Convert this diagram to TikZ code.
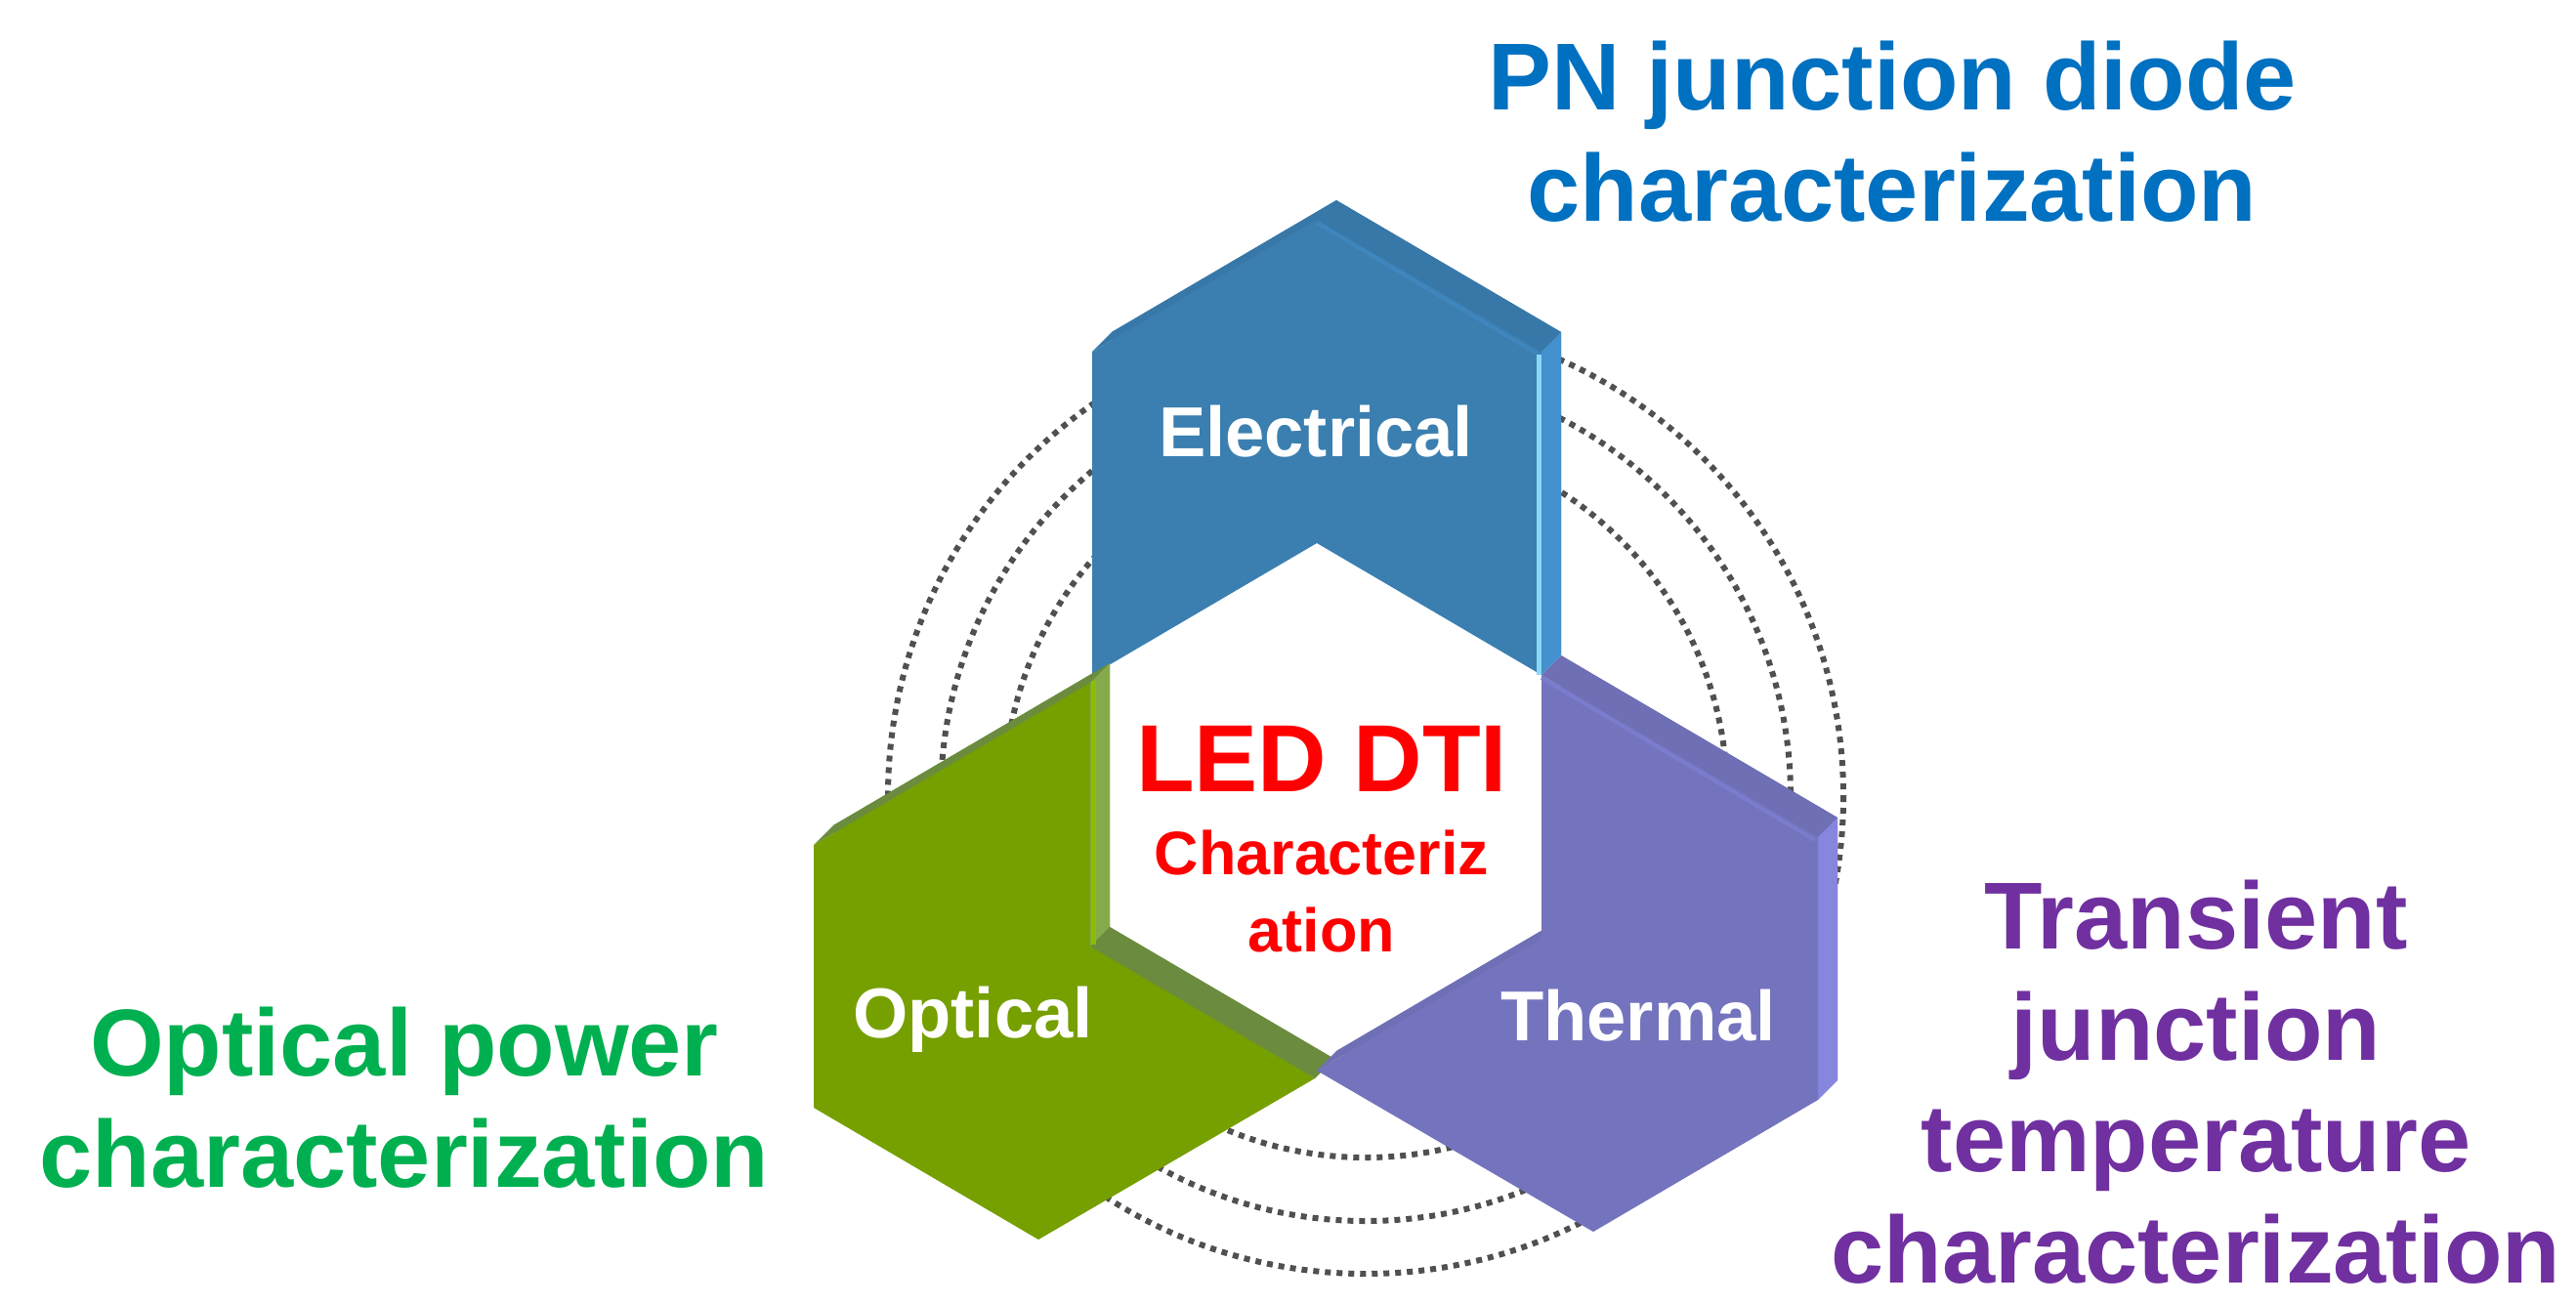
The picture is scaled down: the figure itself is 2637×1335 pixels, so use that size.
\documentclass[tikz,border=0pt]{standalone}
\usepackage{fontspec}
\setmainfont{Liberation Sans}
\usepackage{tikz}
\usetikzlibrary{calc,positioning}

\definecolor{elecface}{RGB}{59,127,176}
\definecolor{electop}{RGB}{55,120,168}
\definecolor{elecside}{RGB}{67,145,206}
\definecolor{elechl}{RGB}{140,215,245}
\definecolor{elecridge}{RGB}{63,134,190}
\definecolor{optface}{RGB}{118,159,0}
\definecolor{opttop}{RGB}{107,140,62}
\definecolor{optside}{RGB}{132,170,76}
\definecolor{opthl}{RGB}{140,190,0}
\definecolor{thface}{RGB}{116,116,190}
\definecolor{thtop}{RGB}{111,111,181}
\definecolor{thside}{RGB}{134,134,222}
\definecolor{thridge}{RGB}{124,124,206}
\definecolor{pnblue}{RGB}{0,112,192}
\definecolor{optgreen}{RGB}{0,176,80}
\definecolor{trpurple}{RGB}{112,48,160}
\definecolor{ringgray}{RGB}{80,80,80}

\newcommand\wall[3]{\fill[#1] (#2) -- (#3) -- ($(#3)+(20,-20)$) -- ($(#2)+(20,-20)$) -- cycle;}
\newcommand\backface[7]{\fill[#1] ($(#2)+(20,-20)$) -- ($(#3)+(20,-20)$) -- ($(#4)+(20,-20)$)
  -- ($(#5)+(20,-20)$) -- ($(#6)+(20,-20)$) -- ($(#7)+(20,-20)$) -- cycle;}

\begin{document}
\begin{tikzpicture}[x=0.1mm,y=-0.1mm,
  ring/.style={ringgray,line width=0.6mm,dash pattern=on 0.6mm off 0.6mm},
  lbl/.style={font=\fontsize{27.7}{32.5}\selectfont\bfseries,align=center,inner sep=0pt,anchor=north},
  tag/.style={font=\fontsize{20.6}{24}\selectfont\bfseries,text=white,inner sep=0pt,anchor=base},
  ridge/.style={line width=0.4mm}]
\useasboundingbox (0,0) rectangle (2637,1335);

\coordinate (ctr) at (1398,815);
\foreach \r in {370,435,489}
  \draw[ring] (ctr) circle[radius=\r];

\coordinate (eA) at (1348,225);
\coordinate (eB) at (1578,360);
\coordinate (eC) at (1578,691);
\coordinate (eN) at (1348,556);
\coordinate (eE) at (1118,691);
\coordinate (eF) at (1118,360);

\coordinate (oA) at (833,1134);
\coordinate (oB) at (833,865);
\coordinate (oC) at (1116,699);
\coordinate (oN) at (1116,969);
\coordinate (oE) at (1346,1104);
\coordinate (oF) at (1063,1269);

\coordinate (tA) at (1861,1126);
\coordinate (tB) at (1631,1261);
\coordinate (tC) at (1348,1096);
\coordinate (tN) at (1578,961);
\coordinate (tE) at (1578,691);
\coordinate (tF) at (1861,857);

\backface{electop}{eA}{eB}{eC}{eN}{eE}{eF}
\wall{electop}{eF}{eA}
\wall{electop}{eA}{eB}
\wall{elecside}{eB}{eC}
\fill[elecface] (eA) -- (eB) -- (eC) -- (eN) -- (eE) -- (eF) -- cycle;
\draw[elecridge,ridge] ($(eA)+(0,3)$) -- ($(eB)+(-3,3)$);
\draw[elechl,line width=0.5mm] ($(eB)+(-3,3)$) -- ($(eC)+(-3,0)$);

\backface{opttop}{oA}{oB}{oC}{oN}{oE}{oF}
\wall{opttop}{oB}{oC}
\wall{optside}{oC}{oN}
\wall{opttop}{oN}{oE}
\fill[optface] (oA) -- (oB) -- (oC) -- (oN) -- (oE) -- (oF) -- cycle;
\draw[opthl,line width=0.5mm] ($(oC)+(3,-2)$) -- ($(oN)+(3,-2)$);

\backface{thtop}{tA}{tB}{tC}{tN}{tE}{tF}
\wall{thtop}{tC}{tN}
\wall{thtop}{tE}{tF}
\wall{thside}{tF}{tA}
\fill[thface] (tA) -- (tB) -- (tC) -- (tN) -- (tE) -- (tF) -- cycle;
\draw[thridge,ridge] ($(tE)+(0,3)$) -- ($(tF)+(-3,3)$);

\node[tag] (elec) at (1347,467) {Electrical};
\node[tag] (opt) at (996,1062) {Optical};
\node[tag] (therm) at (1677,1065) {Thermal};

\node[font=\fontsize{27.8}{33}\selectfont\bfseries,text=red,inner sep=0pt,anchor=base] (led) at (1353,810) {LED DTI};
\node[font=\fontsize{17.9}{22.5}\selectfont\bfseries,text=red,inner sep=0pt,align=center,below=3.8mm of led] (chz) {Characteriz\\ation};

\node[lbl,text=pnblue] (pn) at (1937,41) {PN junction diode\\characterization};
\node[lbl,text=optgreen] (oppow) at (414,1030) {Optical power\\characterization};
\node[lbl,text=trpurple] (tjt) at (2248,900) {Transient\\junction\\temperature\\characterization};
\end{tikzpicture}
\end{document}
